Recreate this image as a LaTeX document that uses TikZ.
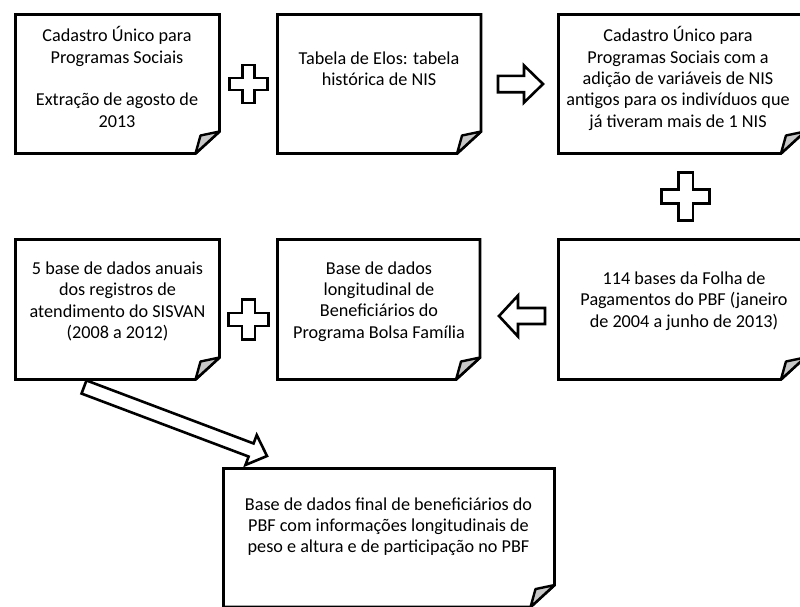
\documentclass[tikz,border=0pt]{standalone}
\usepackage{fontspec}
\setmainfont{Carlito}
\usetikzlibrary{positioning,calc}

\tikzset{
  boxline/.style={line width=2.8pt, line join=miter},
  foldline/.style={line width=2.4pt, line join=round, fill=black!22},
  notebox/.style={minimum width=204pt, minimum height=140pt, inner sep=0pt, outer sep=0pt},
  notetext/.style={align=center, inner sep=0pt, font=\fontsize{18.2}{21.3}\selectfont},
  fatarrow/.style={line width=2.6pt, fill=white, line join=miter},
  plusline/.style={line width=2.6pt, fill=white, line join=miter},
}

% outline of a note with a curled bottom right corner
\newcommand{\notefold}[1]{%
  \draw[boxline] (#1.north west) -- (#1.north east) -- ($(#1.south east)+(0,-22)$)
    -- ($(#1.south east)+(-24,0)$) -- (#1.south west) -- cycle;
  \filldraw[foldline] ($(#1.south east)+(0,-22)$) -- ($(#1.south east)+(-19,-18)$)
    -- ($(#1.south east)+(-24,0)$) -- cycle;
}

% hollow plus sign: centre, half size, half arm
\newcommand{\plusmark}[3]{%
  \draw[plusline] ($(#1)+(-#3,-#2)$) -- ($(#1)+(#3,-#2)$) -- ($(#1)+(#3,-#3)$)
    -- ($(#1)+(#2,-#3)$) -- ($(#1)+(#2,#3)$) -- ($(#1)+(#3,#3)$) -- ($(#1)+(#3,#2)$)
    -- ($(#1)+(-#3,#2)$) -- ($(#1)+(-#3,#3)$) -- ($(#1)+(-#2,#3)$) -- ($(#1)+(-#2,-#3)$)
    -- ($(#1)+(-#3,-#3)$) -- cycle;
}

% hollow block arrow: tail, tip, half shaft, half head, head length
\newcommand{\blockarrow}[5]{%
  \coordinate (hb) at ($(#2)!#5!(#1)$);
  \draw[fatarrow] ($(#1)!#3!90:(#2)$) -- ($(hb)!#3!90:(#2)$) -- ($(hb)!#4!90:(#2)$)
    -- (#2) -- ($(hb)!#4!-90:(#2)$) -- ($(hb)!#3!-90:(#2)$) -- ($(#1)!#3!-90:(#2)$) -- cycle;
}

\begin{document}
\begin{tikzpicture}[x=1pt, y=-1pt]
  \useasboundingbox (0,0) rectangle (800,606);
  \clip (0,0) rectangle (800,606);

  % Boxes - top row
  \node[notebox, minimum height=139pt] (cad) at (117.5,84) {};
  \node[notebox, minimum width=203.5pt, minimum height=139pt] (elos) at (379.3,84) {};
  \node[notebox, minimum width=246.5pt, minimum height=139pt] (cadnis) at (681.7,84) {};

  % Boxes - middle row
  \node[notebox] (sisvan) at (117.5,309.5) {};
  \node[notebox, minimum width=202.5pt] (longit) at (378.8,309.5) {};
  \node[notebox, minimum width=246.5pt] (folha) at (681.7,309.5) {};

  % Box - bottom
  \node[notebox, minimum width=331pt, minimum height=138.5pt] (final) at (389,537.8) {};

  \foreach \b in {cad,elos,cadnis,sisvan,longit,folha,final}
    \notefold{\b};

  % Texts
  \node[notetext] (cadtxt) at (117,77) {Cadastro Único para\\Programas Sociais\\[21.3pt]Extração de agosto de\\2013};
  \node[notetext] (elostxt) at (379,69) {Tabela de Elos: tabela\\histórica de NIS};
  \node[notetext] (cadnistxt) at (678,78.5) {Cadastro Único para\\Programas Sociais com a\\adição de variáveis de NIS\\antigos para os indivíduos que\\já tiveram mais de 1 NIS};
  \node[notetext] (sisvantxt) at (117.5,301.5) {5 base de dados anuais\\dos registros de\\atendimento do SISVAN\\(2008 a 2012)};
  \node[notetext] (longittxt) at (379,301.5) {Base de dados\\longitudinal de\\Beneficiários do\\Programa Bolsa Família};
  \node[notetext] (folhatxt) at (684,301) {114 bases da Folha de\\Pagamentos do PBF (janeiro\\de 2004 a junho de 2013)};
  \node[notetext] (finaltxt) at (388.5,526.5) {Base de dados final de beneficiários do\\PBF com informações longitudinais de\\peso e altura e de participação no PBF};

  % Plus signs
  \coordinate (p1) at ($(cad.east)!0.5!(elos.west)$);
  \coordinate (p2) at ($(cadnis.south)!0.5!(folha.north)+(4,0)$);
  \coordinate (p3) at ($(sisvan.east)!0.5!(longit.west)+(0,10)$);
  \plusmark{p1}{19}{6}
  \plusmark{p2}{24}{7.2}
  \plusmark{p3}{20}{6.5}

  % Arrows
  \coordinate (a1) at (498,84);
  \coordinate (a1e) at (543,84);
  \coordinate (a2) at (545,316);
  \coordinate (a2e) at (499,316);
  \coordinate (a3) at (84,387);
  \coordinate (a3e) at (267,456);
  \blockarrow{a1}{a1e}{8.2pt}{18.5pt}{19pt}
  \blockarrow{a2}{a2e}{8pt}{20.5pt}{19pt}
  \blockarrow{a3}{a3e}{7pt}{16pt}{17pt}
\end{tikzpicture}
\end{document}
